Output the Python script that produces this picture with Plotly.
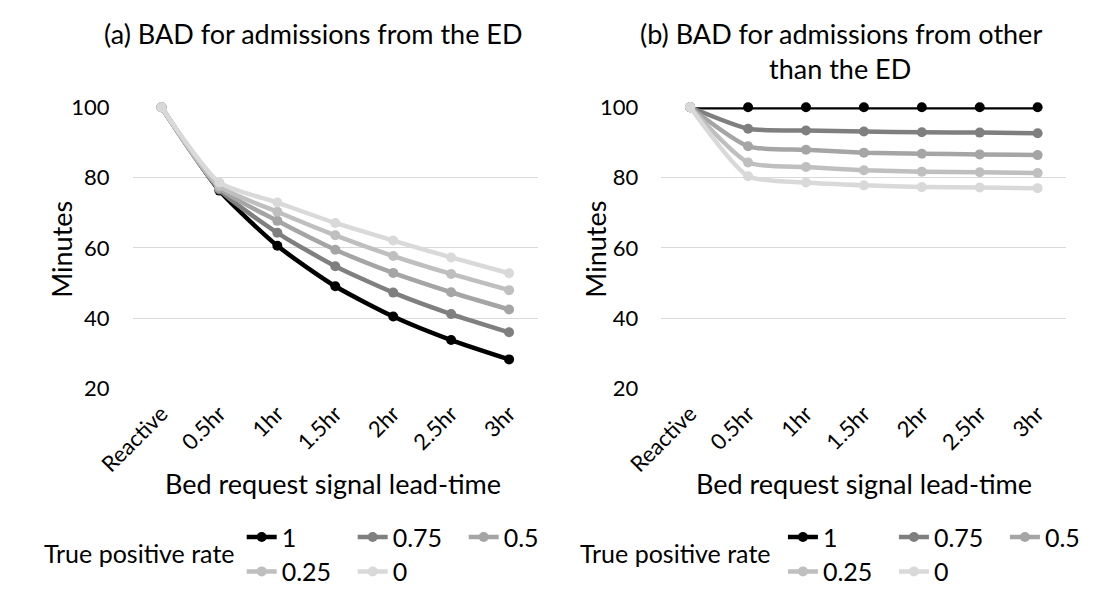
import plotly.graph_objects as go

categories = ["Reactive", "0.5hr", "1hr", "1.5hr", "2hr", "2.5hr", "3hr"]
rates = ["1", "0.75", "0.5", "0.25", "0"]
colors = ["#000000", "#7f7f7f", "#a5a5a5", "#bfbfbf", "#d9d9d9"]

# (a) admissions from the ED
ed_1 = [100, 76.3, 60.6, 49.1, 40.5, 33.8, 28.3]
ed_075 = [100, 76.6, 64.3, 54.8, 47.3, 41.2, 36.0]
ed_05 = [100, 77.0, 67.7, 59.5, 52.9, 47.4, 42.5]
ed_025 = [100, 77.6, 70.3, 63.6, 57.7, 52.6, 48.0]
ed_0 = [100, 78.6, 72.9, 67.1, 62.1, 57.3, 52.8]

# (b) admissions from other than the ED
oth_1 = [100, 100, 100, 100, 100, 100, 100]
oth_075 = [100, 93.9, 93.4, 93.1, 92.9, 92.8, 92.6]
oth_05 = [100, 88.9, 87.9, 87.1, 86.8, 86.6, 86.4]
oth_025 = [100, 84.3, 83.0, 82.1, 81.7, 81.5, 81.3]
oth_0 = [100, 80.4, 78.6, 77.8, 77.3, 77.2, 77.0]

ed_series = [ed_1, ed_075, ed_05, ed_025, ed_0]
oth_series = [oth_1, oth_075, oth_05, oth_025, oth_0]

FONT = "Lato"
W, H = 1116, 598
TITLE_SIZE = 27
TICK_SIZE = 22
LEG_SIZE = 25

fig = go.Figure()

for i, (name, col, ys) in enumerate(zip(rates, colors, ed_series)):
    fig.add_trace(go.Scatter(
        x=categories, y=ys, name=name, mode="lines+markers",
        line=dict(color=col, width=4.5, shape="spline", smoothing=0.6),
        marker=dict(color=col, size=10),
        xaxis="x", yaxis="y", cliponaxis=False,
        legend="legend" if i < 3 else "legend2",
    ))
for i, (name, col, ys) in enumerate(zip(rates, colors, oth_series)):
    fig.add_trace(go.Scatter(
        x=categories, y=ys, name=name, mode="lines+markers",
        line=dict(color=col, width=4.5, shape="spline", smoothing=0.6),
        marker=dict(color=col, size=10),
        xaxis="x2", yaxis="y2", cliponaxis=False,
        legend="legend3" if i < 3 else "legend4",
    ))

ydom = [1 - 392.3 / H, 1 - 97.7 / H]
common_x = dict(type="category", tickangle=-45, showgrid=False, showline=False,
                zeroline=False, ticks="", ticklabelstandoff=7,
                tickfont=dict(family=FONT, size=TICK_SIZE, color="#000"))
common_y = dict(range=[20, 100], tickvals=[20, 40, 60, 80, 100], showgrid=True,
                gridcolor="#d9d9d9", gridwidth=1.3, zeroline=False, showline=False,
                ticks="", ticklabelstandoff=22,
                tickfont=dict(family=FONT, size=TICK_SIZE, color="#000"))

leg_common = dict(orientation="h", font=dict(family=FONT, size=LEG_SIZE, color="#000"),
                  bgcolor="rgba(0,0,0,0)", xanchor="left", yanchor="middle",
                  entrywidth=66, entrywidthmode="pixels", itemclick=False,
                  tracegroupgap=0)

fig.update_layout(
    width=W, height=H, margin=dict(l=0, r=0, t=0, b=0),
    paper_bgcolor="white", plot_bgcolor="white",
    font=dict(family=FONT, color="#000"),
    xaxis=dict(domain=[103.6 / W, 543.4 / W], range=[-0.5, 6.5], anchor="y", **common_x),
    yaxis=dict(domain=ydom, anchor="x", **common_y),
    xaxis2=dict(domain=[677 / W, 1.0], range=[-0.5, 6.49], anchor="y2", **common_x),
    yaxis2=dict(domain=ydom, anchor="x2", **common_y),
    legend=dict(x=222 / W, y=1 - 548 / H, **leg_common),
    legend2=dict(x=222 / W, y=1 - 584 / H, **leg_common),
    legend3=dict(x=809 / W, y=1 - 548 / H, **leg_common),
    legend4=dict(x=809 / W, y=1 - 584 / H, **leg_common),
    showlegend=True,
)

def ann(text, x, y, size, angle=0):
    fig.add_annotation(text=text, x=x / W, y=1 - y / H, xref="paper", yref="paper",
                       showarrow=False, textangle=angle, xanchor="center", yanchor="middle",
                       font=dict(family=FONT, size=size, color="#000"))

ann("(a) BAD for admissions from the ED", 299, 20, TITLE_SIZE)
ann("(b) BAD for admissions from other", 872, 20, TITLE_SIZE)
ann("than the ED", 871, 57, TITLE_SIZE)
ann("Minutes", 27, 246, TITLE_SIZE, -90)
ann("Minutes", 606, 246, TITLE_SIZE, -90)
ann("Bed request signal lead-time", 321, 492, TITLE_SIZE)
ann("Bed request signal lead-time", 897, 492, TITLE_SIZE)
ann("True positive rate", 111, 565, LEG_SIZE)
ann("True positive rate", 692, 565, LEG_SIZE)

fig.write_html("out.html")
